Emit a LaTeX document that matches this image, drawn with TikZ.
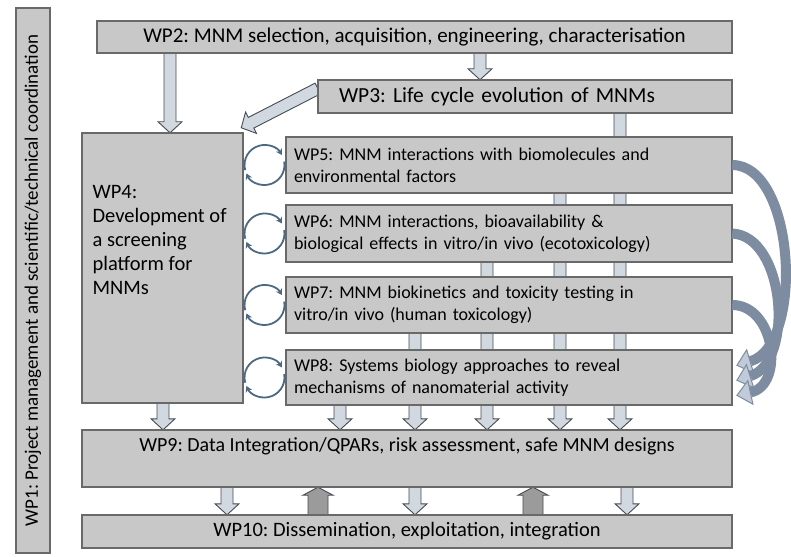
\documentclass[tikz,border=0pt]{standalone}
\usepackage{fontspec}
\setmainfont{Carlito}
\frenchspacing
\usetikzlibrary{calc,arrows.meta}
\definecolor{boxfill}{RGB}{200,200,200}
\definecolor{boxline}{RGB}{105,105,105}
\definecolor{arrfill}{RGB}{210,216,224}
\definecolor{arrline}{RGB}{70,76,84}
\definecolor{upfill}{RGB}{155,155,155}
\definecolor{loopcol}{RGB}{75,105,130}
\definecolor{curvecol}{RGB}{125,140,160}
\definecolor{curvehead}{RGB}{192,202,216}
\tikzset{
  box/.style={draw=boxline, fill=boxfill, line width=1.5pt, inner sep=0pt,
    font=\fontsize{18}{22}\selectfont},
  bigtext/.style={font=\fontsize{#1}{24}\selectfont},
  textleft/.style={align=left, text width=#1},
  downarr/.style={draw=arrline, fill=arrfill, line width=0.9pt},
  uparr/.style={draw=arrline, fill=upfill, line width=0.9pt},
  cyc/.style={draw=loopcol, line width=1.8pt, -{Stealth[length=6pt,width=7pt]}},
  curvearr/.style={draw=curvecol, line width=10pt,
    -{Triangle[length=15pt,width=26pt,line width=1pt,fill=curvehead]}},
}
% block arrow: #1 style, #2 from, #3 to, #4 half shaft, #5 half head, #6 head length
\newcommand\blockarr[6]{%
  \path[#1] let \p1=(#2), \p2=(#3), \n1={atan2(\y2-\y1,\x2-\x1)},
    \n2={veclen(\x2-\x1,\y2-\y1)} in
    [shift={(\p1)}, rotate=\n1]
    (0pt,-#4) -- ({\n2*1pt-#6},-#4) -- ({\n2*1pt-#6},-#5) -- ({\n2*1pt},0pt)
    -- ({\n2*1pt-#6},#5) -- ({\n2*1pt-#6},#4) -- (0pt,#4) -- cycle;}
\newcommand\dnarr[2]{\blockarr{downarr}{#1}{#2}{6pt}{12pt}{11pt}}
\newcommand\uparr[2]{\blockarr{uparr}{#1}{#2}{10pt}{15pt}{8pt}}
\newcommand\cycloop[1]{%
  \coordinate (c#1) at ($(wp4.east |- #1.center)!0.5!(#1.west)$);
  \draw[cyc] ($(c#1)+(-195:20)$) arc[start angle=-195, end angle=-30, radius=20];
  \draw[cyc] ($(c#1)+(-10:20)$) arc[start angle=-10, end angle=155, radius=20];}
\begin{document}
\begin{tikzpicture}[x=1pt,y=-1pt]
\useasboundingbox[fill=white] (0,0) rectangle (791,556);

% WP1 side bar
\node[box, bigtext=19, rotate=90, minimum width=545pt, minimum height=34pt] (wp1) at (33,280.5)
  {WP1: Project management and scientific/technical coordination};

% box outlines first as named placeholders so the arrows can refer to them
\path[every node/.style={inner sep=0pt}]
  node[minimum width=635pt, minimum height=32pt] (wp2) at (414.5,37) {}
  node[minimum width=414pt, minimum height=33pt] (wp3) at (525,96.5) {}
  node[minimum width=161pt, minimum height=270pt] (wp4) at (162.5,268) {}
  node[minimum width=446pt, minimum height=56pt] (wp5) at (509,165) {}
  node[minimum width=446pt, minimum height=57pt] (wp6) at (509,233.5) {}
  node[minimum width=446pt, minimum height=56pt] (wp7) at (509,305) {}
  node[minimum width=446pt, minimum height=55pt] (wp8) at (509,377.5) {}
  node[minimum width=650pt, minimum height=57pt] (wp9) at (407,458.5) {}
  node[minimum width=650pt, minimum height=33pt] (wp10) at (407,531.5) {};

% block arrows (drawn behind the boxes)
\dnarr{170,0 |- wp2.south}{170,0 |- wp4.north}
\dnarr{480,0 |- wp2.south}{480,0 |- wp3.north}
\dnarr{$(wp3.west)+(0,-8)$}{$(wp4.north east)+(-2,-5)$}
\dnarr{620,0 |- wp3.south}{620,0 |- wp9.north}
\dnarr{560,0 |- wp5.south}{560,0 |- wp9.north}
\dnarr{487,0 |- wp6.south}{487,0 |- wp9.north}
\dnarr{415,0 |- wp7.south}{415,0 |- wp9.north}
\dnarr{340,0 |- wp8.south}{340,0 |- wp9.north}
\dnarr{163,0 |- wp4.south}{163,0 |- wp9.north}
\dnarr{227,0 |- wp9.south}{227,0 |- wp10.north}
\dnarr{415,0 |- wp9.south}{415,0 |- wp10.north}
\dnarr{627,0 |- wp9.south}{627,0 |- wp10.north}
\uparr{318,0 |- wp10.north}{318,0 |- wp9.south}
\uparr{533,0 |- wp10.north}{533,0 |- wp9.south}

% boxes with their texts
\node[box, bigtext=21, minimum width=635pt, minimum height=32pt] at (wp2)
  {WP2: MNM selection, acquisition, engineering, characterisation};
\node[box, bigtext=21.5, minimum width=414pt, minimum height=33pt, textleft=372pt] at (wp3)
  {WP3: Life cycle evolution of MNMs};
\node[box, minimum width=161pt, minimum height=270pt] at (wp4) {};
\node[box, bigtext=20.5, draw=none, fill=none, anchor=north west, align=left]
  at ($(wp4.north west)+(10,52)$)
  {WP4:\\Development of\\a screening\\platform for\\MNMs};
\node[box, minimum width=446pt, minimum height=56pt, textleft=430pt] at (wp5)
  {WP5: MNM interactions with biomolecules and\\environmental factors};
\node[box, minimum width=446pt, minimum height=57pt, textleft=430pt] at (wp6)
  {WP6: MNM interactions, bioavailability \&\\biological effects in vitro/in vivo (ecotoxicology)};
\node[box, minimum width=446pt, minimum height=56pt, textleft=430pt] at (wp7)
  {WP7: MNM biokinetics and toxicity testing in\\vitro/in vivo (human toxicology)};
\node[box, minimum width=446pt, minimum height=55pt, textleft=430pt] at (wp8)
  {WP8: Systems biology approaches to reveal\\mechanisms of nanomaterial activity};
\node[box, minimum width=650pt, minimum height=57pt] at (wp9) {};
\node[box, bigtext=20, draw=none, fill=none, anchor=north] at ($(wp9.north)+(0,7)$)
  {WP9: Data Integration/QPARs, risk assessment, safe MNM designs};
\node[box, bigtext=20.5, minimum width=650pt, minimum height=33pt] at (wp10)
  {WP10: Dissemination, exploitation, integration};

% feedback loops between WP4 and WP5--WP8
\cycloop{wp5}
\cycloop{wp6}
\cycloop{wp7}
\cycloop{wp8}

% curved arrows from WP5--WP7 into WP8
\draw[curvearr] (wp5.east) .. controls (795,165) and (805,345) .. ($(wp8.east)+(4,-12)$);
\draw[curvearr] (wp6.east) .. controls (785,236) and (795,362) .. ($(wp8.east)+(4,3)$);
\draw[curvearr] (wp7.east) .. controls (775,305) and (785,385) .. ($(wp8.east)+(4,18)$);
\end{tikzpicture}
\end{document}
